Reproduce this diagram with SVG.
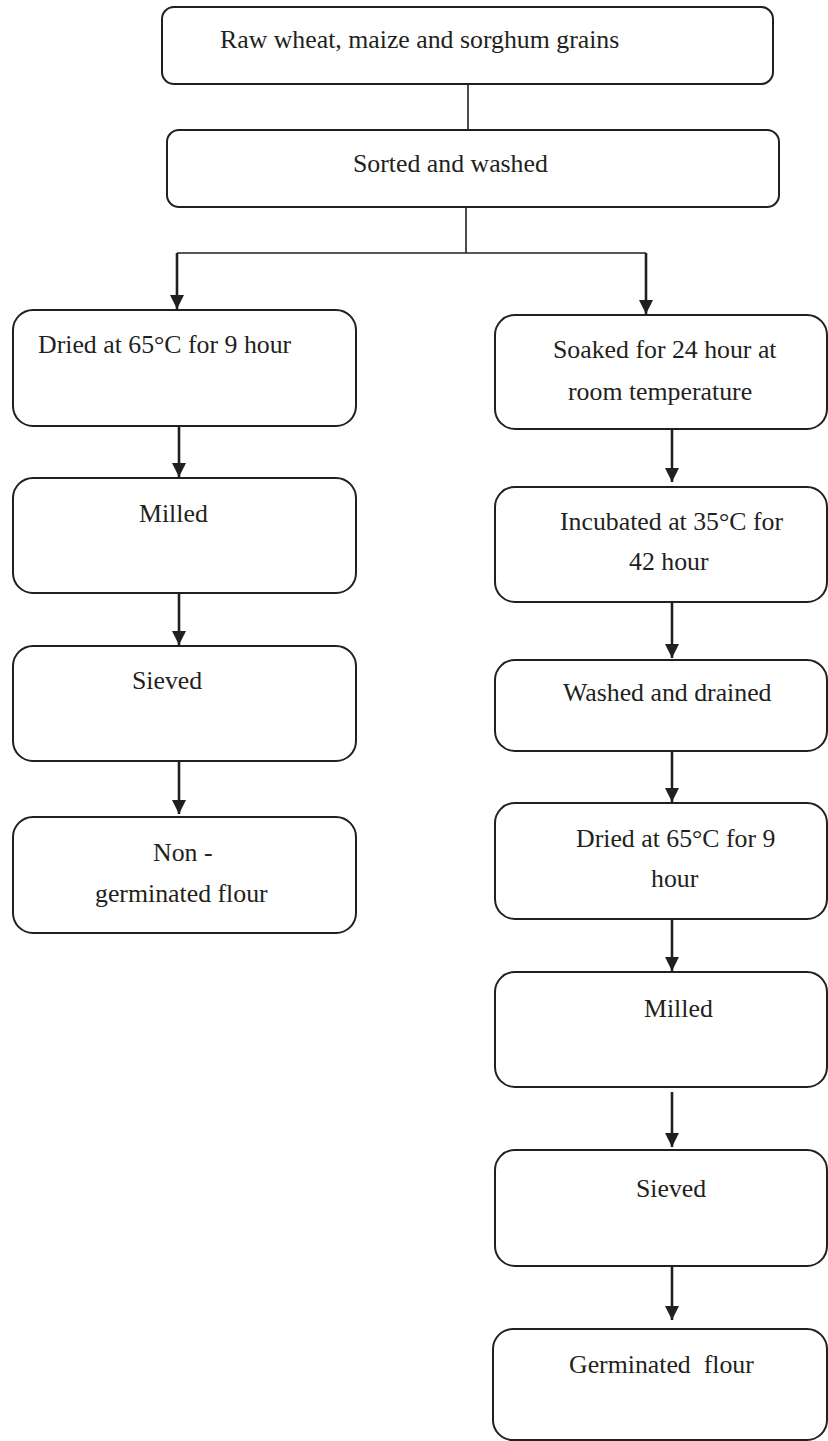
<svg xmlns="http://www.w3.org/2000/svg" width="828" height="1441" viewBox="0 0 828 1441">
<style>
.box{fill:#fff;stroke:#231f20;stroke-width:2}
.t{font-family:"Liberation Serif","Times New Roman",serif;font-size:25.8px;fill:#231f20}
.ln{stroke:#231f20;stroke-width:1.6;fill:none}
.ar{stroke:#231f20;stroke-width:2.6;fill:none;marker-end:url(#ah)}
</style>
<defs>
<marker id="ah" viewBox="0 0 14 14" refX="14" refY="7" markerWidth="14" markerHeight="14" markerUnits="userSpaceOnUse" orient="auto">
<path d="M0,0 L14,7 L0,14 z" fill="#231f20"/>
</marker>
</defs>
<rect width="828" height="1441" fill="#fff"/>
<g id="connectors">
<line class="ln" x1="468" y1="84" x2="468" y2="130"/>
<line class="ln" x1="466" y1="207" x2="466" y2="253"/>
<line class="ln" x1="177" y1="253" x2="646" y2="253"/>
<line class="ar" x1="177" y1="253" x2="177" y2="309"/>
<line class="ar" x1="646" y1="253" x2="646" y2="314"/>
<line class="ar" x1="179" y1="422" x2="179" y2="477"/>
<line class="ar" x1="179" y1="589" x2="179" y2="645"/>
<line class="ar" x1="179" y1="757" x2="179" y2="814"/>
<line class="ar" x1="672" y1="425" x2="672" y2="482"/>
<line class="ar" x1="672" y1="602" x2="672" y2="658"/>
<line class="ar" x1="672" y1="749" x2="672" y2="802"/>
<line class="ar" x1="672" y1="915" x2="672" y2="971"/>
<line class="ar" x1="672" y1="1092" x2="672" y2="1147"/>
<line class="ar" x1="672" y1="1266" x2="672" y2="1320"/>
</g>
<g id="raw"><rect class="box" x="162" y="7" width="611" height="77" rx="12"/><text class="t" x="220" y="48">Raw wheat, maize and sorghum grains</text></g>
<g id="sorted"><rect class="box" x="167" y="130" width="612" height="77" rx="12"/><text class="t" x="353" y="172">Sorted and washed</text></g>
<g id="dried1"><rect class="box" x="13" y="310" width="343" height="116" rx="20"/><text class="t" x="38" y="353">Dried at 65°C for 9 hour</text></g>
<g id="milled1"><rect class="box" x="13" y="478" width="343" height="115" rx="20"/><text class="t" x="139" y="522">Milled</text></g>
<g id="sieved1"><rect class="box" x="13" y="646" width="343" height="115" rx="20"/><text class="t" x="132" y="689">Sieved</text></g>
<g id="nongerm"><rect class="box" x="13" y="817" width="343" height="116" rx="20"/><text class="t" x="153" y="861">Non -</text><text class="t" x="95" y="902">germinated flour</text></g>
<g id="soaked"><rect class="box" x="495" y="315" width="332" height="114" rx="20"/><text class="t" x="553" y="358">Soaked for 24 hour at</text><text class="t" x="568" y="400">room temperature</text></g>
<g id="incubated"><rect class="box" x="495" y="487" width="332" height="115" rx="20"/><text class="t" x="560" y="530">Incubated at 35°C for</text><text class="t" x="629" y="570">42 hour</text></g>
<g id="washed"><rect class="box" x="495" y="660" width="332" height="91" rx="20"/><text class="t" x="563" y="701">Washed and drained</text></g>
<g id="dried2"><rect class="box" x="495" y="803" width="332" height="116" rx="20"/><text class="t" x="576" y="847">Dried at 65°C for 9</text><text class="t" x="651" y="887">hour</text></g>
<g id="milled2"><rect class="box" x="495" y="972" width="332" height="115" rx="20"/><text class="t" x="644" y="1017">Milled</text></g>
<g id="sieved2"><rect class="box" x="495" y="1150" width="332" height="116" rx="20"/><text class="t" x="636" y="1197">Sieved</text></g>
<g id="germ"><rect class="box" x="493" y="1329" width="334" height="111" rx="20"/><text class="t" x="569" y="1373" xml:space="preserve">Germinated  flour</text></g>
</svg>
